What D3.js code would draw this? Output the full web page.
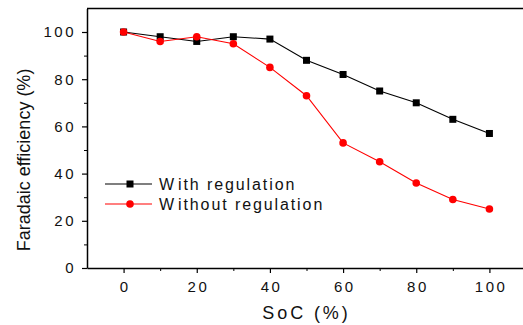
<!DOCTYPE html>
<html>
<head>
<meta charset="utf-8">
<script src="https://cdn.jsdelivr.net/npm/d3@7"></script>
<style>
  body { margin: 0; background: #fff; }
  svg { display: block; font-family: "Liberation Sans", Arial, sans-serif; }
</style>
</head>
<body>
<div id="app"></div>
<script>
const soc = [0, 10, 20, 30, 40, 50, 60, 70, 80, 90, 100];
const withReg = [100, 98, 96, 98, 97, 88, 82, 75, 70, 63, 57];
const withoutReg = [100, 96, 98, 95, 85, 73, 53, 45, 36, 29, 25];
const xTicks = [0, 20, 40, 60, 80, 100];
const yTicks = [0, 20, 40, 60, 80, 100];
const minorTicks = [10, 30, 50, 70, 90];

const width = 523,
  height = 325;

const x = d3.scaleLinear().domain([-10, 110]).range([87, 526]);
const y = d3.scaleLinear().domain([0, 110]).range([268, 8.4]);

const svg = d3.select("#app")
  .append("svg")
  .attr("width", width)
  .attr("height", height);

// top frame line
svg.append("line")
  .attr("x1", x(-10)).attr("x2", width)
  .attr("y1", y(110)).attr("y2", y(110))
  .attr("stroke", "#000").attr("stroke-width", 1.5);

// minor ticks
svg.append("g")
  .attr("transform", `translate(0,${y(0)})`)
  .call(d3.axisBottom(x).tickValues(minorTicks).tickSize(3).tickFormat(""))
  .call(g => g.select(".domain").remove());
svg.append("g")
  .attr("transform", `translate(${x(-10)},0)`)
  .call(d3.axisLeft(y).tickValues(minorTicks).tickSize(3).tickFormat(""))
  .call(g => g.select(".domain").remove());

const xAxis = svg.append("g")
  .attr("transform", `translate(0,${y(0)})`)
  .call(d3.axisBottom(x).tickValues(xTicks).tickSize(5).tickSizeOuter(0).tickPadding(8));

const yAxis = svg.append("g")
  .attr("transform", `translate(${x(-10)},0)`)
  .call(d3.axisLeft(y).tickValues(yTicks).tickSize(5).tickSizeOuter(0).tickPadding(6));

[xAxis, yAxis].forEach(g => {
  g.select(".domain").attr("stroke-width", 1.5);
  g.selectAll(".tick line").attr("stroke-width", 1.2);
  g.selectAll("text")
    .attr("font-size", 15)
    .attr("letter-spacing", 2.5)
    .attr("fill", "#111")
    .style("font-family", "'Liberation Sans', Arial, sans-serif");
});
xAxis.selectAll("text").attr("dx", 1.2);
svg.selectAll("g.tick line").attr("stroke", "#000");

// axis titles
svg.append("text")
  .attr("x", (x(-10) + x(110)) / 2)
  .attr("y", 319)
  .attr("text-anchor", "middle")
  .attr("font-size", 18)
  .attr("letter-spacing", 2.9)
  .attr("fill", "#111")
  .text("SoC (%)");

svg.append("text")
  .attr("transform", `translate(30,${y(50) + 10}) rotate(-90)`)
  .attr("text-anchor", "middle")
  .attr("font-size", 18)
  .attr("fill", "#111")
  .text("Faradaic efficiency (%)");

const line = d3.line()
  .x((d, i) => x(soc[i]))
  .y(d => y(d));

// series
svg.append("path")
  .datum(withReg)
  .attr("d", line)
  .attr("fill", "none")
  .attr("stroke", "#000")
  .attr("stroke-width", 1.1);

svg.append("path")
  .datum(withoutReg)
  .attr("d", line)
  .attr("fill", "none")
  .attr("stroke", "#ff0000")
  .attr("stroke-width", 1.1);

svg.selectAll(".sq")
  .data(withReg)
  .enter()
  .append("rect")
  .attr("class", "sq")
  .attr("x", (d, i) => x(soc[i]) - 3.5)
  .attr("y", d => y(d) - 3.5)
  .attr("width", 7)
  .attr("height", 7)
  .attr("fill", "#000");

svg.selectAll(".dot")
  .data(withoutReg)
  .enter()
  .append("circle")
  .attr("class", "dot")
  .attr("cx", (d, i) => x(soc[i]))
  .attr("cy", d => y(d))
  .attr("r", 3.8)
  .attr("fill", "#ff0000");

// legend
const legendItems = [
  { name: "With regulation", color: "#000", shape: "square" },
  { name: "Without regulation", color: "#ff0000", shape: "circle" }
];

const legend = svg.append("g").attr("transform", "translate(105,184)");

legendItems.forEach((item, i) => {
  const row = legend.append("g").attr("transform", `translate(0,${i * 20})`);
  row.append("line")
    .attr("x1", 0).attr("x2", 47)
    .attr("stroke", item.color).attr("stroke-width", 1.1);
  if (item.shape === "square") {
    row.append("rect")
      .attr("x", 25 - 3.5).attr("y", -3.5)
      .attr("width", 7).attr("height", 7)
      .attr("fill", item.color);
  } else {
    row.append("circle")
      .attr("cx", 25).attr("cy", 0).attr("r", 3.8)
      .attr("fill", item.color);
  }
  const t = row.append("text")
    .attr("x", 54)
    .attr("y", 6)
    .attr("font-size", 16)
    .attr("letter-spacing", 1.9)
    .attr("fill", "#111");
  t.append("tspan").text(item.name.slice(0, 1));
  t.append("tspan").attr("dx", 2).text(item.name.slice(1));
});
</script>
</body>
</html>
